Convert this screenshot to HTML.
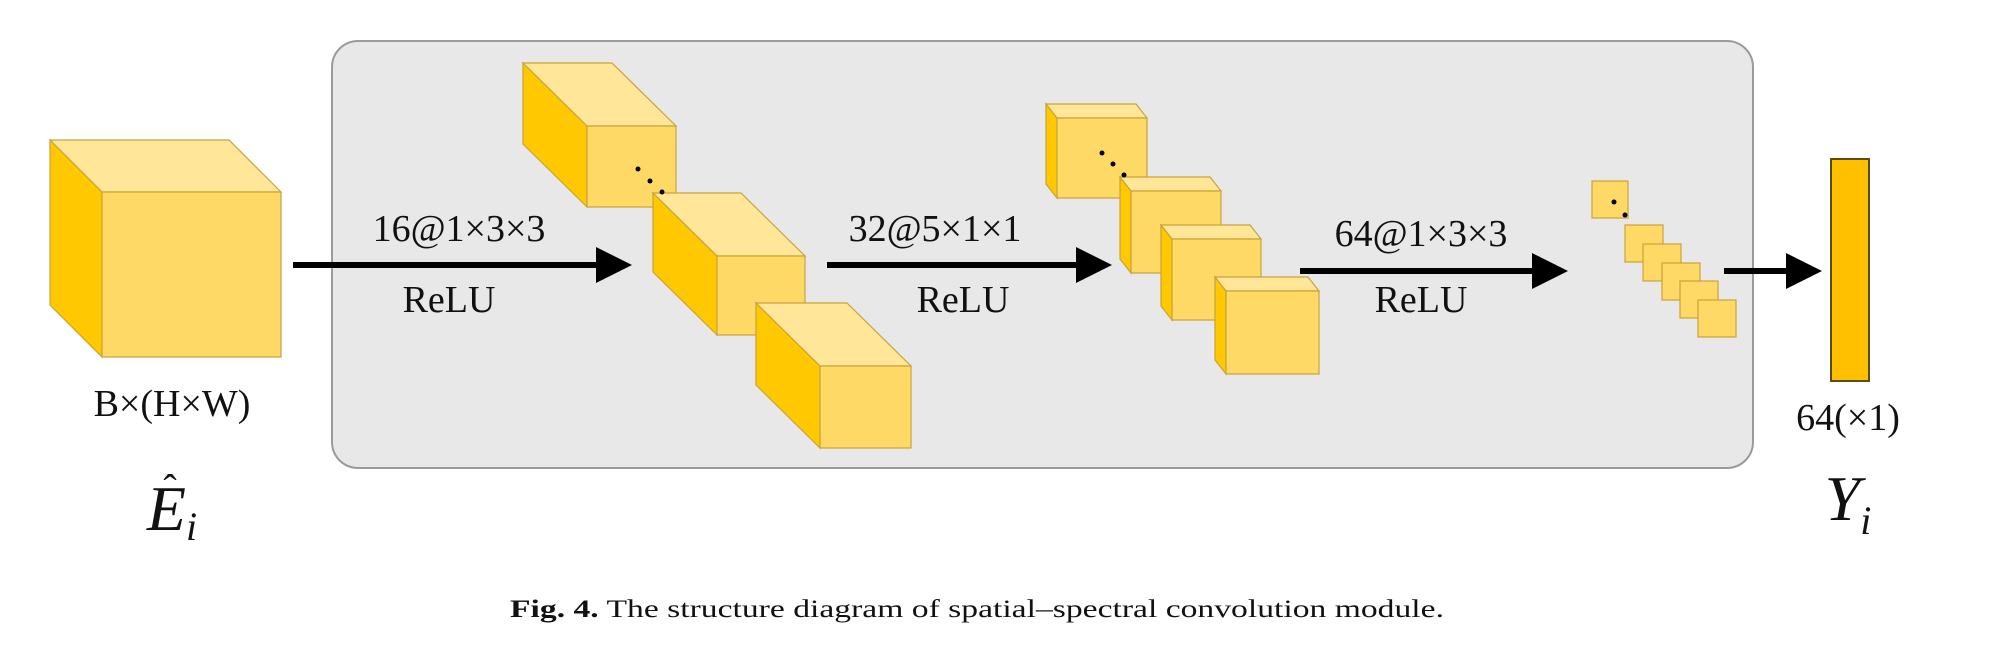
<!DOCTYPE html>
<html><head><meta charset="utf-8"><style>
html,body{margin:0;padding:0;background:#fff;}
svg{display:block;}
text{font-family:"Liberation Serif",serif;fill:#111;}
</style></head><body>
<svg width="2000" height="649" viewBox="0 0 2000 649" xmlns="http://www.w3.org/2000/svg">
<defs>
<marker id="ah" markerWidth="6" markerHeight="6" refX="0" refY="3" orient="auto" markerUnits="strokeWidth">
<path d="M0,0 L6,3 L0,6 z" fill="#000"/>
</marker>
</defs>
<rect x="332" y="41" width="1421" height="427" rx="26" fill="#E8E8E8" stroke="#9a9a9a" stroke-width="2"/>

<!-- left cube -->
<g stroke="#C9A23A" stroke-width="1.2">
<polygon points="50,140 102,192 102,357 50,305" fill="#FFC800"/>
<polygon points="50,140 229,140 281,192 102,192" fill="#FFE699"/>
<rect x="102" y="192" width="179" height="165" fill="#FFD966"/>
</g>

<!-- stack 1 -->
<g stroke="#C9A23A" stroke-width="1.2">
<polygon points="523,63 587,126 587,207 523,144" fill="#FFC800"/>
<polygon points="523,63 612,63 676,126 587,126" fill="#FFE699"/>
<rect x="587" y="126" width="89" height="81" fill="#FFD966"/>
<polygon points="653,193 717,256 717,335 653,272" fill="#FFC800"/>
<polygon points="653,193 741,193 805,256 717,256" fill="#FFE699"/>
<rect x="717" y="256" width="88" height="79" fill="#FFD966"/>
<polygon points="756,303 820,366 820,448 756,385" fill="#FFC800"/>
<polygon points="756,303 847,303 911,366 820,366" fill="#FFE699"/>
<rect x="820" y="366" width="91" height="82" fill="#FFD966"/>
</g>
<circle cx="638" cy="169" r="2.5" fill="#000"/><circle cx="650" cy="181" r="2.5" fill="#000"/><circle cx="662" cy="192" r="2.5" fill="#000"/>

<!-- stack 2 -->
<g stroke="#C9A23A" stroke-width="1.2">
<polygon points="1046,104 1057,118 1057,198 1046,184" fill="#FFC800"/>
<polygon points="1046,104 1136,104 1147,118 1057,118" fill="#FFE699"/>
<rect x="1057" y="118" width="90" height="80" fill="#FFD966"/>
<polygon points="1120,177 1131,191 1131,273 1120,259" fill="#FFC800"/>
<polygon points="1120,177 1210,177 1221,191 1131,191" fill="#FFE699"/>
<rect x="1131" y="191" width="90" height="82" fill="#FFD966"/>
<polygon points="1161,225 1172,239 1172,320 1161,306" fill="#FFC800"/>
<polygon points="1161,225 1250,225 1261,239 1172,239" fill="#FFE699"/>
<rect x="1172" y="239" width="89" height="81" fill="#FFD966"/>
<polygon points="1215,277 1226,291 1226,374 1215,360" fill="#FFC800"/>
<polygon points="1215,277 1308,277 1319,291 1226,291" fill="#FFE699"/>
<rect x="1226" y="291" width="93" height="83" fill="#FFD966"/>
</g>
<circle cx="1102" cy="153" r="2.5" fill="#000"/><circle cx="1113" cy="164" r="2.5" fill="#000"/><circle cx="1124" cy="175" r="2.5" fill="#000"/>

<!-- small stack -->
<g stroke="#C9A23A" stroke-width="1.2" fill="#FFD966">
<rect x="1592" y="181" width="36" height="37"/>
<rect x="1625" y="225" width="38" height="37"/>
<rect x="1643" y="244" width="38" height="37"/>
<rect x="1662" y="263" width="38" height="37"/>
<rect x="1680" y="281" width="38" height="37"/>
<rect x="1698" y="300" width="38" height="37"/>
</g>
<circle cx="1614" cy="202" r="2.5" fill="#000"/><circle cx="1625" cy="215" r="2.5" fill="#000"/>

<!-- arrows -->
<g stroke="#000" stroke-width="6">
<line x1="293" y1="265" x2="596" y2="265" marker-end="url(#ah)"/>
<line x1="827" y1="265" x2="1076" y2="265" marker-end="url(#ah)"/>
<line x1="1300" y1="271" x2="1532" y2="271" marker-end="url(#ah)"/>
<line x1="1724" y1="271" x2="1786" y2="271" marker-end="url(#ah)"/>
</g>

<!-- output bar -->
<rect x="1831" y="159" width="38" height="222" fill="#FFC000" stroke="#5a4a10" stroke-width="2"/>

<!-- labels -->
<text x="459" y="241" font-size="38" text-anchor="middle">16@1×3×3</text>
<text x="449" y="312" font-size="38" text-anchor="middle">ReLU</text>
<text x="935" y="241" font-size="38" text-anchor="middle">32@5×1×1</text>
<text x="963" y="312" font-size="38" text-anchor="middle">ReLU</text>
<text x="1421" y="246" font-size="38" text-anchor="middle">64@1×3×3</text>
<text x="1421" y="312" font-size="38" text-anchor="middle">ReLU</text>
<text x="172" y="416" font-size="38" text-anchor="middle">B×(H×W)</text>
<text x="1848" y="430" font-size="38" text-anchor="middle">64(×1)</text>
<text x="172" y="530" font-size="64" font-style="italic" text-anchor="middle">E<tspan font-size="40" dy="10">i</tspan></text>
<text x="170" y="502" font-size="40" text-anchor="middle">ˆ</text>
<text x="1848" y="520" font-size="64" font-style="italic" text-anchor="middle">Y<tspan font-size="40" dy="14">i</tspan></text>
<text x="510" y="617" font-size="25" textLength="934" lengthAdjust="spacingAndGlyphs"><tspan font-weight="bold">Fig. 4.</tspan>  The structure diagram of spatial–spectral convolution module.</text>
</svg>
</body></html>
